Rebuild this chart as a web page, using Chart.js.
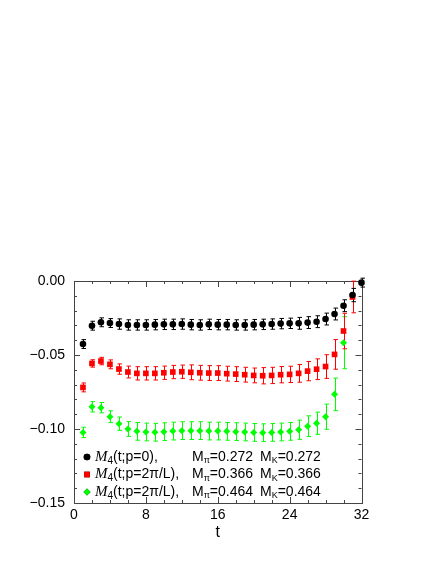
<!DOCTYPE html>
<html>
<head>
<meta charset="utf-8">
<script src="https://cdn.jsdelivr.net/npm/chart.js@4.4.0/dist/chart.umd.min.js"></script>
<style>
  html, body { margin: 0; padding: 0; background: #fff; }
</style>
</head>
<body>
<canvas id="chart" width="436" height="564"></canvas>
<script>
// timeslices
const tBlack = [1,2,3,4,5,6,7,8,9,10,11,12,13,14,15,16,17,18,19,20,21,22,23,24,25,26,27,28,29,30,31,32];
const tRed   = [1,2,3,4,5,6,7,8,9,10,11,12,13,14,15,16,17,18,19,20,21,22,23,24,25,26,27,28,29,30,31];
const tGreen = [1,2,3,4,5,6,7,8,9,10,11,12,13,14,15,16,17,18,19,20,21,22,23,24,25,26,27,28,29,30];

// M4(t) values
const mBlack = [-0.0426,-0.0302,-0.0279,-0.0284,-0.0291,-0.0297,-0.0297,-0.0297,-0.0295,-0.0293,
                -0.0293,-0.0291,-0.0295,-0.0297,-0.0293,-0.0295,-0.0295,-0.0297,-0.0297,-0.0295,
                -0.0293,-0.0291,-0.0288,-0.0286,-0.0286,-0.0281,-0.0275,-0.0257,-0.0223,-0.0167,
                -0.0095,-0.0011];
const mRed   = [-0.0719,-0.0557,-0.0541,-0.0563,-0.0595,-0.0615,-0.0624,-0.0624,-0.0624,-0.0620,
                -0.0615,-0.0613,-0.0617,-0.0620,-0.0622,-0.0622,-0.0626,-0.0629,-0.0633,-0.0638,
                -0.0640,-0.0638,-0.0633,-0.0631,-0.0624,-0.0609,-0.0596,-0.0578,-0.0496,-0.0338,
                -0.0108];
const mGreen = [-0.1023,-0.0850,-0.0856,-0.0917,-0.0964,-0.1000,-0.1016,-0.1020,-0.1022,-0.1018,
                -0.1014,-0.1011,-0.1011,-0.1011,-0.1014,-0.1014,-0.1016,-0.1018,-0.1020,-0.1023,
                -0.1025,-0.1023,-0.1020,-0.1016,-0.1005,-0.0981,-0.0961,-0.0917,-0.0766,-0.0417];

// error bars
const eBlack = [0.003,0.003,0.003,0.003,0.0035,0.0035,0.0035,0.0035,0.0035,0.0035,
                0.0035,0.0035,0.0035,0.0035,0.0035,0.0035,0.0035,0.0035,0.0035,0.0035,
                0.0035,0.0035,0.0035,0.0035,0.004,0.004,0.004,0.004,0.004,0.004,
                0.0045,0.003];
const eRed   = [0.003,0.0025,0.0025,0.003,0.0035,0.004,0.0045,0.0045,0.0045,0.0045,
                0.0045,0.0045,0.005,0.005,0.005,0.005,0.005,0.005,0.005,0.005,
                0.0055,0.0055,0.0055,0.0055,0.006,0.0065,0.007,0.008,0.010,0.012,
                0.0107];
const eGreen = [0.0035,0.0035,0.0035,0.004,0.0045,0.005,0.006,0.006,0.006,0.006,
                0.006,0.006,0.006,0.006,0.006,0.006,0.006,0.006,0.006,0.006,
                0.006,0.006,0.006,0.006,0.0065,0.007,0.0075,0.0085,0.011,0.0176];

// legend texts
const legendMom = ['(t;p=0),', '(t;p=2\u03C0/L),', '(t;p=2\u03C0/L),'];
const legendMpi = ['0.272', '0.366', '0.464'];
const legendMK  = ['0.272', '0.366', '0.464'];

const xTicks = [0, 8, 16, 24, 32];
const yTicks = [0, -0.05, -0.10, -0.15];

const colors = ['#000000', '#ff0000', '#00ff00'];
const errs = [eBlack, eRed, eGreen];
const styles = ['circle', 'rect', 'rectRot'];
const radii = [3.3, 4, 3.5];

const toPoints = (ts, ms) => ts.map((t, i) => ({ x: t, y: ms[i] }));

const SANS = '"Liberation Sans", Arial, Helvetica, sans-serif';
const SERIF = '"Liberation Serif", "Times New Roman", serif';

// error bars under the markers
const errorBars = {
    id: 'errorBars',
    beforeDatasetsDraw(chart) {
        const ctx = chart.ctx;
        const xs = chart.scales.x, ys = chart.scales.y;
        ctx.save();
        ctx.lineWidth = 1;
        for (let d = chart.data.datasets.length - 1; d >= 0; d--) {
            const ds = chart.data.datasets[d];
            ctx.strokeStyle = colors[d];
            ds.data.forEach((p, i) => {
                const px = Math.round(xs.getPixelForValue(p.x)) + 0.5;
                const y1 = ys.getPixelForValue(p.y + errs[d][i]);
                const y2 = ys.getPixelForValue(p.y - errs[d][i]);
                ctx.beginPath();
                ctx.moveTo(px, y1); ctx.lineTo(px, y2);
                ctx.moveTo(px - 2, y1); ctx.lineTo(px + 2.5, y1);
                ctx.moveTo(px - 2, y2); ctx.lineTo(px + 2.5, y2);
                ctx.stroke();
            });
        }
        ctx.restore();
    }
};

// frame with inward ticks on all four sides
const frameTicks = {
    id: 'frameTicks',
    beforeDatasetsDraw(chart) {
        const ctx = chart.ctx;
        const { left, right, top, bottom } = chart.chartArea;
        const xs = chart.scales.x, ys = chart.scales.y;
        ctx.save();
        ctx.strokeStyle = '#444';
        ctx.lineWidth = 1;
        ctx.strokeRect(Math.round(left) + 0.5, Math.round(top) + 0.5,
                       Math.round(right - left), Math.round(bottom - top));
        ctx.beginPath();
        for (let v = 0; v <= 32; v += 2) {
            const px = Math.round(xs.getPixelForValue(v)) + 0.5;
            const len = v % 8 === 0 ? 6 : 3;
            ctx.moveTo(px, bottom); ctx.lineTo(px, bottom - len);
            ctx.moveTo(px, top); ctx.lineTo(px, top + len);
        }
        for (let k = 0; k <= 15; k++) {
            const py = Math.round(ys.getPixelForValue(-k / 100)) + 0.5;
            const len = k % 5 === 0 ? 6 : 3;
            ctx.moveTo(left, py); ctx.lineTo(left + len, py);
            ctx.moveTo(right, py); ctx.lineTo(right - len, py);
        }
        ctx.stroke();
        ctx.restore();
    }
};

// legend with sub-scripts, drawn inside the plot
const mixedLegend = {
    id: 'mixedLegend',
    afterDatasetsDraw(chart) {
        const ctx = chart.ctx;
        const rowsY = [457, 474.5, 492];
        ctx.save();
        ctx.textBaseline = 'middle';
        rowsY.forEach((y, i) => {
            Chart.helpers.drawPoint(ctx, {
                pointStyle: styles[i], radius: radii[i], rotation: 0, borderWidth: 0
            }, 87, y);
            ctx.fillStyle = colors[i];
            ctx.fill();

            ctx.fillStyle = '#000';
            let x = 95;
            const put = (txt, font, dy) => {
                ctx.font = font;
                ctx.fillText(txt, x, y + dy);
                x += ctx.measureText(txt).width;
            };
            put('M', 'italic 15px ' + SERIF, 0);
            put('4', '10px ' + SANS, 4);
            put(legendMom[i], '14px ' + SANS, 0);

            x = 192;
            put('M', '14px ' + SANS, 0);
            put('\u03C0', '9px ' + SANS, 4);
            put('=' + legendMpi[i], '14px ' + SANS, 0);

            x = 260;
            put('M', '14px ' + SANS, 0);
            put('K', '9px ' + SANS, 4);
            put('=' + legendMK[i], '14px ' + SANS, 0);
        });
        ctx.restore();
    }
};

const datasets = [
    { label: 'p=0, 0.272', data: toPoints(tBlack, mBlack) },
    { label: 'p=2pi/L, 0.366', data: toPoints(tRed, mRed) },
    { label: 'p=2pi/L, 0.464', data: toPoints(tGreen, mGreen) }
].map((ds, i) => Object.assign(ds, {
    backgroundColor: colors[i],
    borderColor: colors[i],
    borderWidth: 0,
    pointStyle: styles[i],
    pointRadius: radii[i],
    pointHoverRadius: radii[i],
    showLine: false,
    clip: false
}));

new Chart(document.getElementById('chart'), {
    type: 'scatter',
    data: { datasets },
    options: {
        responsive: false,
        animation: false,
        events: [],
        layout: { padding: { left: 0, top: 281, right: 74.5, bottom: 0 } },
        plugins: { legend: { display: false }, tooltip: { enabled: false } },
        scales: {
            x: {
                type: 'linear', min: 0, max: 32,
                afterBuildTicks: s => { s.ticks = xTicks.map(v => ({ value: v })); },
                afterFit: s => { s.height = 61; },
                grid: { display: false, drawTicks: false },
                border: { display: false },
                ticks: { color: '#000', padding: 4, maxRotation: 0, font: { family: SANS, size: 14 } },
                title: { display: true, text: 't', color: '#000',
                         font: { family: SANS, size: 16 }, padding: { top: 22, bottom: 22 } }
            },
            y: {
                type: 'linear', min: -0.15, max: 0,
                afterBuildTicks: s => { s.ticks = yTicks.map(v => ({ value: v })); },
                afterFit: s => { s.width = 74; },
                grid: { display: false, drawTicks: false },
                border: { display: false },
                ticks: {
                    color: '#000', padding: 9, font: { family: SANS, size: 14 },
                    callback: v => (Math.abs(v) < 1e-9 ? '0.00' : v.toFixed(2).replace('-', '\u2212'))
                }
            }
        }
    },
    plugins: [frameTicks, errorBars, mixedLegend]
});
</script>
</body>
</html>
